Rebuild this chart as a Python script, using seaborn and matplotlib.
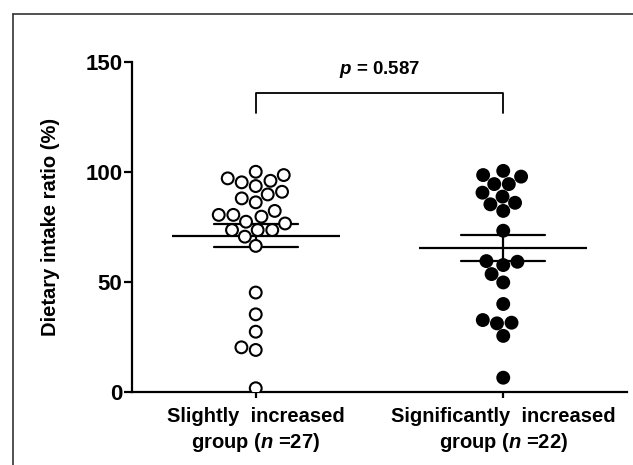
import pandas as pd
import matplotlib
matplotlib.use("Agg")
import matplotlib.pyplot as plt
from matplotlib.lines import Line2D
import seaborn as sns

# values (dietary intake ratio, %)
slight = [98.6, 93.6, 96.0, 95.3, 97.1, 100.1, 89.8, 86.2, 88.0, 91.0,
          82.3, 80.5, 77.4, 76.6, 79.7, 80.5, 73.6, 73.6, 70.6, 73.6,
          66.4, 45.2, 35.3, 27.4, 20.3, 19.1, 1.7]
significant = [98.6, 94.5, 94.5, 97.9, 100.5, 90.6, 86.0, 82.3, 85.3, 88.8,
               73.3, 59.2, 59.5, 57.7, 53.6, 49.8, 40.0, 32.7, 31.2, 31.5,
               25.5, 6.5]
group_labels = ["Slightly  increased\ngroup ($n$ =27)",
                "Significantly  increased\ngroup ($n$ =22)"]
y_ticks = [0, 50, 100, 150]
p_text = "$p$ = 0.587"

df = pd.DataFrame({
    "group": [group_labels[0]] * len(slight) + [group_labels[1]] * len(significant),
    "value": slight + significant,
})

sns.set_style("ticks")
plt.rcParams["font.family"] = ["Liberation Sans", "DejaVu Sans"]
plt.rcParams["font.weight"] = "bold"
plt.rcParams["mathtext.fontset"] = "custom"
plt.rcParams["mathtext.rm"] = "Liberation Sans:bold"
plt.rcParams["mathtext.it"] = "Liberation Sans:bold:italic"
for k in ["text.color", "axes.labelcolor", "xtick.color", "ytick.color",
          "axes.edgecolor"]:
    plt.rcParams[k] = "black"

fig = plt.figure(figsize=(6.33, 4.65), dpi=100)
ax = fig.add_axes([0.2085, 0.157, 0.782, 0.7097])

sns.swarmplot(data=df, x="group", y="value", hue="group", order=group_labels,
              hue_order=group_labels, palette=["white", "black"],
              edgecolor="black", linewidth=1.5, size=8.5, legend=False, ax=ax)

# mean line with SEM
sns.pointplot(data=df, x="group", y="value", order=group_labels,
              errorbar="se", capsize=0.34, color="black", markers="_",
              markersize=121, markeredgewidth=1.6, linestyle="none",
              err_kws={"linewidth": 1.6}, ax=ax)

ax.set_xlim(-0.5, 1.5)
ax.set_ylim(0, 150)
ax.set_yticks(y_ticks)
ax.set_xlabel("")
ax.set_ylabel("Dietary intake ratio (%)", fontsize=14.5, fontweight="bold", labelpad=18)
ax.tick_params(axis="y", labelsize=16, length=6, width=1.6, pad=1)
ax.tick_params(axis="x", labelsize=14.5, length=4, width=1.6, pad=7)
for t in ax.get_xticklabels():
    t.set_linespacing(1.3)
for s in ["left", "bottom"]:
    ax.spines[s].set_linewidth(1.6)
sns.despine(ax=ax)

# significance bracket
ax.plot([0, 0, 1, 1], [127, 136, 136, 127], color="black", lw=1.3, clip_on=False)
ax.text(0.5, 142.0, p_text, ha="center", va="bottom", fontsize=13.5,
        fontweight="bold", clip_on=False)

# cropped frame around the panel
fig.add_artist(Line2D([12.5 / 633, 1], [1 - 14 / 465, 1 - 14 / 465],
                      color="#333333", lw=1.2, transform=fig.transFigure))
fig.add_artist(Line2D([12.5 / 633, 12.5 / 633], [0, 1 - 14 / 465],
                      color="#333333", lw=1.2, transform=fig.transFigure))

fig.savefig("out.png", dpi=100)
